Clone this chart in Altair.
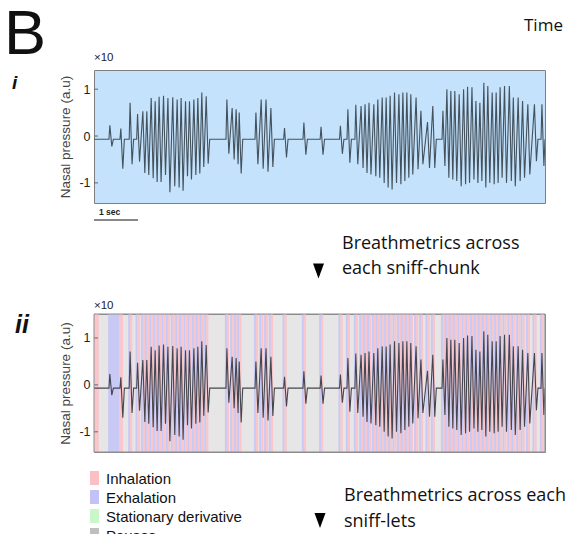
import altair as alt
import pandas as pd

# ---------------- data ----------------
# sniff peak times (s), peak and trough amplitudes (x10 a.u.)
sniff_t = [0.36, 0.61, 0.82, 0.99, 1.11, 1.20, 1.30, 1.39, 1.48, 1.58,
           1.68, 1.79, 1.89, 1.98, 2.08, 2.17, 2.27, 2.36, 2.45, 2.55,
           3.02, 3.14, 3.23, 3.30, 3.68, 3.80, 3.91, 4.02, 4.33, 4.77,
           5.16, 5.60, 5.77, 5.95, 6.07, 6.16, 6.25, 6.36, 6.45, 6.55,
           6.64, 6.73, 6.83, 6.93, 7.02, 7.11, 7.20, 7.32, 7.43, 7.58,
           7.70, 7.93, 8.02, 8.11, 8.20, 8.30, 8.40, 8.49, 8.59, 8.68,
           8.77, 8.86, 8.95, 9.05, 9.14, 9.23, 9.33, 9.44, 9.53, 9.64,
           9.74, 9.86, 10.01, 10.18]
sniff_peak = [0.23, 0.16, 0.71, 0.47, 0.53, 0.53, 0.81, 0.74, 0.84, 0.86,
              0.81, 0.83, 0.78, 0.81, 0.74, 0.74, 0.78, 0.81, 0.93, 0.85,
              0.78, 0.60, 0.57, 0.50, 0.50, 0.78, 0.78, 0.60, 0.17, 0.29,
              0.20, 0.22, 0.57, 0.67, 0.64, 0.68, 0.71, 0.68, 0.78, 0.82,
              0.82, 0.86, 0.93, 0.89, 0.93, 0.93, 0.89, 0.82, 0.54, 0.30,
              0.64, 0.54, 1.00, 0.96, 0.96, 0.89, 1.00, 1.05, 1.04, 0.75,
              0.71, 1.14, 1.07, 0.93, 0.93, 1.04, 1.07, 1.07, 0.82, 0.82,
              0.75, 0.68, 0.68, 0.68]
sniff_trough = [-0.22, -0.70, -0.60, -0.55, -0.79, -0.83, -0.90, -0.98, -0.98, -0.83,
                -1.20, -1.07, -1.10, -1.17, -0.86, -0.93, -0.83, -0.80, -0.66, -0.59,
                -0.38, -0.50, -0.60, -0.80, -0.60, -0.70, -0.76, -0.66, -0.46, -0.40,
                -0.40, -0.38, -0.57, -0.60, -0.68, -0.79, -0.82, -0.86, -0.89, -1.00,
                -1.10, -1.14, -1.00, -1.03, -0.96, -0.89, -0.82, -0.71, -0.60, -0.68,
                -0.68, -0.64, -0.89, -0.93, -0.96, -1.07, -1.03, -1.00, -0.93, -1.00,
                -0.96, -1.10, -1.00, -1.03, -1.00, -0.89, -1.00, -0.96, -1.07, -0.96,
                -0.89, -0.82, -0.54, -0.64]

# extra breathing-phase bands at the very start (s)
extra_band_start = [0.00, 0.32, 0.57]
extra_band_end = [0.11, 0.57, 0.66]
extra_band_kind = ["Inhalation", "Exhalation", "Inhalation"]

y_ticks = [-1, 0, 1]
legend_labels = ["Inhalation", "Exhalation", "Stationary derivative", "Pauses"]
legend_colors = ["#fbbfc4", "#c2c2f8", "#c9f7c9", "#bfbfbf"]

X_MAX = 10.25
BASE = -0.07
LAG = 0.045

# ---------------- derived tables ----------------
ts, vs = [0.0], [BASE]
prev_end = 0.0
for t, p, q in zip(sniff_t, sniff_peak, sniff_trough):
    if t - prev_end > 0.12:
        if prev_end > 0:
            ts.append(prev_end + 0.035); vs.append(BASE)
        ts.append(t - 0.02); vs.append(BASE)
    ts += [t, t + LAG]
    vs += [p, q]
    prev_end = t + LAG
ts.append(min(prev_end + 0.03, X_MAX)); vs.append(BASE)
trace = pd.DataFrame({"t": ts, "v": vs, "o": list(range(len(ts)))})

b_s, b_e, b_k = list(extra_band_start), list(extra_band_end), list(extra_band_kind)
for i, t in enumerate(sniff_t):
    if i < 2:
        continue
    b_s += [t - 0.045, t]
    b_e += [t, min(t + 0.05, X_MAX)]
    b_k += ["Exhalation", "Inhalation"]
bands = pd.DataFrame({"s": b_s, "e": b_e, "k": b_k})
ticks_df = pd.DataFrame({"v": y_ticks})

W = 451
H1, H2 = 133, 138
FONT = "Liberation Sans"
xs = alt.Scale(domain=[0, X_MAX], nice=False, zero=False)


def one():
    return alt.Chart(pd.DataFrame({"k": [0]}))


def label(txt, x, y, size, font=FONT, weight="normal", style="normal", color="#111"):
    return alt.Chart(pd.DataFrame({"s": [txt]})).mark_text(
        align="left", baseline="alphabetic", font=font, fontSize=size,
        fontWeight=weight, fontStyle=style, color=color
    ).encode(text="s:N", x=alt.value(x), y=alt.value(y))


def arrow(x, y):
    return one().mark_point(shape="M-1,-1.35L1,-1.35L0,1.35Z", filled=True, size=121,
                            color="black", opacity=1, strokeWidth=0).encode(
        x=alt.value(x), y=alt.value(y))


def yaxis():
    return alt.Axis(values=y_ticks, title="Nasal pressure (a.u)", grid=False, domain=False,
                    ticks=False, tickSize=0, labelPadding=4, labelFontSize=12.5,
                    labelFont=FONT, labelColor="#222",
                    labelExpr="datum.value < 0 ? '-' + abs(datum.value) : '' + datum.value",
                    titleFont=FONT, titleFontSize=13.5, titleFontWeight="normal",
                    titleColor="#444", titlePadding=6)


# ---------------- panel i ----------------
ys1 = alt.Scale(domain=[-1.43, 1.41], nice=False, zero=False)
tick1 = alt.Chart(ticks_df).mark_rule(color="#666", strokeWidth=1).encode(
    y=alt.Y("v:Q", scale=ys1, axis=yaxis()), x=alt.value(0), x2=alt.value(4))
line1 = alt.Chart(trace).mark_line(color="#44525e", strokeWidth=1.1, clip=True).encode(
    x=alt.X("t:Q", scale=xs, axis=None),
    y=alt.Y("v:Q", scale=ys1, axis=yaxis()),
    order="o:Q")
anchor = one().mark_point(shape="square", size=1, filled=True, color="white", opacity=1).encode(
    x=alt.value(-92.5), y=alt.value(-68.5))
bar = alt.Chart(pd.DataFrame({"a": [0.0], "b": [1.0]})).mark_rule(color="#888", strokeWidth=2).encode(
    x=alt.X("a:Q", scale=xs, axis=None), x2="b:Q", y=alt.value(150))

panel1 = alt.layer(
    tick1, line1, anchor, bar,
    label("B", -90, -16, 63),
    label("i", -82, 19, 19, weight="bold", style="italic"),
    label("×10", 0, -9, 11.5, color="#222"),
    label("Time", 430, -39, 17, font="Open Sans", color="#111"),
    label("1 sec", 5, 145, 8.5, weight="bold", color="#222"),
    label("Breathmetrics across", 248, 179, 18, font="Open Sans"),
    label("each sniff-chunk", 248, 204, 18, font="Open Sans"),
    arrow(224.5, 201),
).properties(width=W, height=H1,
             view=alt.ViewBackground(fill="#c4e2fb", stroke="#7f7f7f", strokeWidth=1))

# ---------------- panel ii ----------------
ys2 = alt.Scale(domain=[-1.43, 1.51], nice=False, zero=False)
tick2 = alt.Chart(ticks_df).mark_rule(color="#666", strokeWidth=1).encode(
    y=alt.Y("v:Q", scale=ys2, axis=yaxis()), x=alt.value(0), x2=alt.value(4))
band_layer = alt.Chart(bands).mark_rect(clip=True).encode(
    x=alt.X("s:Q", scale=xs, axis=None), x2="e:Q",
    y=alt.value(0), y2=alt.value(H2),
    color=alt.Color("k:N", scale=alt.Scale(domain=["Inhalation", "Exhalation"],
                                           range=["#f8c6cb", "#c9c9f6"]), legend=None))
line2 = alt.Chart(trace).mark_line(color="#46464f", strokeWidth=1.1, clip=True).encode(
    x=alt.X("t:Q", scale=xs, axis=None),
    y=alt.Y("v:Q", scale=ys2, axis=yaxis()),
    order="o:Q")
frame2 = one().mark_rect(fill=None, stroke="#8c8c8c", strokeWidth=1).encode(
    x=alt.value(0), x2=alt.value(W), y=alt.value(0), y2=alt.value(H2))

legend_layers = []
for i, (lab, col) in enumerate(zip(legend_labels, legend_colors)):
    y0 = 157 + i * 19
    legend_layers.append(one().mark_rect(color=col).encode(
        x=alt.value(-4), x2=alt.value(5), y=alt.value(y0), y2=alt.value(y0 + 14)))
    legend_layers.append(label(lab, 12, y0 + 13, 15, color="#111"))

panel2 = alt.layer(
    band_layer, tick2, line2, frame2,
    label("ii", -79, 19, 25, weight="bold", style="italic"),
    label("×10", 0, -5, 11.5, color="#222"),
    label("Breathmetrics across each", 250, 187, 18, font="Open Sans"),
    label("sniff-lets", 250, 213, 18, font="Open Sans"),
    arrow(226, 206.5),
    *legend_layers,
).properties(width=W, height=H2,
             view=alt.ViewBackground(fill="#e6e6e6", stroke="#8c8c8c", strokeWidth=1))

chart = alt.vconcat(panel1, panel2, spacing=111, bounds="flush").properties(padding=0)
chart.save("out.html", embed_options={"renderer": "svg", "actions": False})
